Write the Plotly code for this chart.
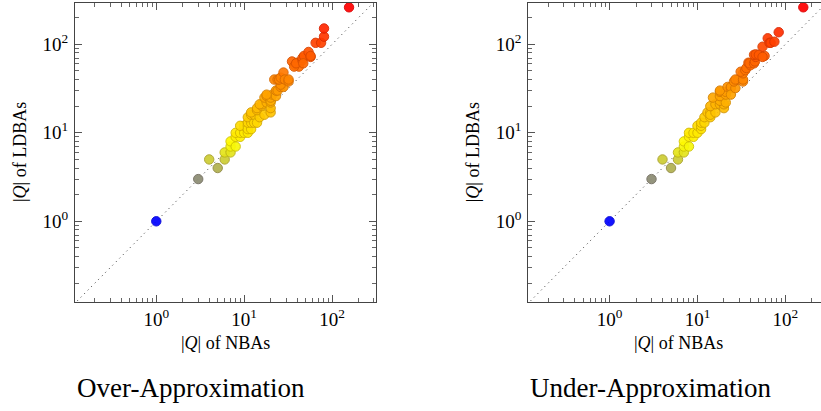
import math
import plotly.graph_objects as go

# ---------------- data ----------------
over_nba = [1, 3, 4, 5, 6, 6, 7, 7, 7, 8, 8, 9, 8, 9, 10, 10, 9, 11, 11, 11, 12, 11, 12, 11, 13,
            12, 13, 14, 15, 12, 14, 14, 16, 16, 17, 15, 18, 20, 20, 20, 17, 18, 20, 20, 21, 18,
            23, 23, 24, 26, 28, 26, 22, 24, 25, 26, 28, 29, 32, 32, 35, 38, 40, 42, 37, 39, 46,
            46, 48, 47, 54, 57, 57, 65, 75, 81, 81, 156]
over_ldba = [1, 3, 5, 4, 5, 6, 6, 7, 8, 7, 9, 9, 10, 10, 10, 12, 12, 12, 10, 11, 11, 13, 13, 15, 13,
             16, 16, 13, 15, 17, 18, 19, 20, 21, 16, 21, 22, 17, 19, 22, 25, 26, 23, 25, 27, 27,
             26, 30, 30, 33, 33, 35, 40, 40, 40, 42, 48, 40, 38, 40, 64, 58, 62, 56, 56, 61, 66,
             70, 74, 61, 82, 72, 74, 104, 104, 122, 151, 262]

under_nba = [1, 3, 4, 5, 6, 6, 7, 7, 7, 8, 8, 9, 8, 9, 10, 10, 11, 11, 11, 12, 12, 14, 13, 14, 14,
             16, 14, 16, 18, 20, 20, 18, 21, 15, 18, 18, 21, 21, 18, 22, 24, 24, 24, 27, 26, 29,
             27, 33, 33, 33, 31, 35, 36, 38, 40, 39, 44, 45, 46, 44, 46, 50, 58, 55, 55, 63, 66,
             68, 75, 84, 160]
under_ldba = [1, 3, 5, 4, 5, 6, 6, 7, 8, 7, 9, 9, 10, 10, 10, 12, 11, 12, 13, 13, 15, 15, 17, 17, 16,
              17, 20, 21, 21, 19, 21, 23, 22, 25, 26, 29, 27, 29, 30, 33, 32, 33, 27, 32, 38, 40,
              40, 38, 40, 47, 49, 51, 54, 62, 58, 61, 61, 64, 72, 76, 77, 76, 74, 72, 94, 117, 104,
              104, 107, 137, 262]

diag = [0.05, 1000]
tick_vals = [1, 10, 100]
tick_text = ["10<sup>0</sup>", "10<sup>1</sup>", "10<sup>2</sup>"]
captions = ["Over-Approximation", "Under-Approximation"]
x_title = "|<i>Q</i>| of NBAs"
y_title = "|<i>Q</i>| of LDBAs"

# ---------------- style ----------------
W, H = 821, 411
FONT = "Liberation Serif"
fill_scale = [[0.0, "rgb(0,0,255)"], [0.36, "rgb(255,255,0)"], [1.0, "rgb(255,0,0)"]]
edge_scale = [[0.0, "rgb(0,0,215)"], [0.36, "rgb(210,200,0)"], [1.0, "rgb(220,0,0)"]]
cmax = math.log10(max(over_ldba + under_ldba))

def px_x(p):
    return p / W

def px_y(p):
    return 1 - p / H

box_top, box_bot = 3, 302
left_l, left_r = 75, 376
right_l = 528.3
dec_x = (left_r - left_l) / (2.5 + 0.925)
xrange1 = [-0.925, 2.5]
xrange2 = [-0.925, -0.925 + (W - right_l) / dec_x]
yrange = [-0.912, 2.467]

fig = go.Figure()

for i, (xs, ys) in enumerate([(over_nba, over_ldba), (under_nba, under_ldba)]):
    xa = "x" if i == 0 else "x2"
    ya = "y" if i == 0 else "y2"
    fig.add_trace(go.Scatter(x=diag, y=diag, mode="lines", xaxis=xa, yaxis=ya,
                             line=dict(color="#333", width=1, dash="1px,4px"),
                             hoverinfo="skip", showlegend=False))
    meta = [math.log10(v) for v in ys]
    fig.add_trace(go.Scatter(
        x=xs, y=ys, mode="markers", xaxis=xa, yaxis=ya, showlegend=False,
        marker=dict(size=9.4, color=meta, colorscale=fill_scale, cmin=0, cmax=cmax,
                    opacity=0.92,
                    line=dict(width=1, color=meta, colorscale=edge_scale, cmin=0, cmax=cmax))))

# empty traces so the mirrored (top / right) tick axes exist
for xa, ya in [("x3", "y"), ("x", "y3"), ("x4", "y2")]:
    fig.add_trace(go.Scatter(x=[], y=[], xaxis=xa, yaxis=ya, showlegend=False,
                             hoverinfo="skip"))

minor = dict(dtick="D1", ticks="inside", ticklen=4, tickwidth=1, tickcolor="#666",
             showgrid=False)
axis_common = dict(type="log", tickmode="array", tickvals=tick_vals, ticktext=tick_text,
                   ticks="inside", ticklen=7, tickwidth=1, tickcolor="#555",
                   showline=True, linecolor="#444", linewidth=1, mirror=False,
                   showgrid=False, zeroline=False, minor=minor,
                   tickfont=dict(family=FONT, size=19, color="black"))
mirror_common = dict(axis_common, showticklabels=False)

xdom1 = [px_x(left_l), px_x(left_r)]
xdom2 = [px_x(right_l), 1.0]
ydom = [px_y(box_bot), px_y(box_top)]

fig.update_layout(
    width=W, height=H, margin=dict(l=0, r=0, t=0, b=0),
    paper_bgcolor="white", plot_bgcolor="white",
    font=dict(family=FONT, color="black"),
    xaxis=dict(axis_common, domain=xdom1, range=xrange1, anchor="y", ticklabelstandoff=0),
    yaxis=dict(axis_common, domain=ydom, range=yrange, anchor="x", ticklabelstandoff=2),
    xaxis2=dict(axis_common, domain=xdom2, range=xrange2, anchor="y2", ticklabelstandoff=0),
    yaxis2=dict(axis_common, domain=ydom, range=yrange, anchor="x2", ticklabelstandoff=2),
    xaxis3=dict(mirror_common, overlaying="x", side="top", anchor="y", range=xrange1),
    yaxis3=dict(mirror_common, overlaying="y", side="right", anchor="x", range=yrange),
    xaxis4=dict(mirror_common, overlaying="x2", side="top", anchor="y2", range=xrange2),
)

ann = []
for cx_l in (left_l, right_l):
    cx = cx_l + (left_r - left_l) / 2
    ann.append(dict(text=x_title, x=px_x(cx), y=px_y(343), xref="paper", yref="paper",
                    showarrow=False, xanchor="center", yanchor="middle",
                    font=dict(family=FONT, size=18, color="black")))
    ann.append(dict(text=y_title, x=px_x(cx_l - 55), y=px_y(152), xref="paper", yref="paper",
                    showarrow=False, xanchor="center", yanchor="middle", textangle=-90,
                    font=dict(family=FONT, size=18, color="black")))
for cap, cx_l in zip(captions, (left_l, right_l)):
    ann.append(dict(text=cap, x=px_x(cx_l), y=px_y(388), xref="paper", yref="paper",
                    showarrow=False, xanchor="left", yanchor="middle",
                    font=dict(family=FONT, size=27, color="black")))
fig.update_layout(annotations=ann)

fig.write_html("out.html", config={"displayModeBar": False},
               post_script="document.body.style.margin='0';document.body.style.overflow='hidden';")
